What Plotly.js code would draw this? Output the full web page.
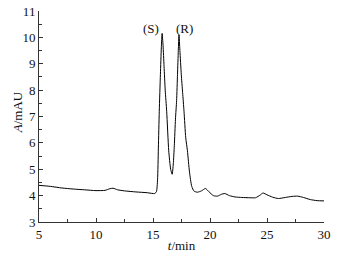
<!DOCTYPE html>
<html><head><meta charset="utf-8">
<script src="https://cdn.plot.ly/plotly-3.0.1.min.js"></script>
<style>html,body{margin:0;padding:0;background:#fff}#c{width:342px;height:256px}</style>
</head><body><div id="c"></div>
<script>
const timeMin = [5,6,7,8,9,10,10.8,11.2,11.5,11.9,12.5,13.5,14.5,15.15,15.3,15.4,15.47,15.55,15.65,15.73,15.8,15.88,15.97,16.07,16.2,16.38,16.55,16.68,16.78,16.87,16.97,17.07,17.15,17.22,17.28,17.36,17.48,17.6,17.72,17.87,18.02,18.2,18.4,18.6,18.9,19.25,19.6,19.9,20.3,20.65,21.0,21.3,21.7,22.2,22.8,23.5,24.0,24.4,24.65,25.0,25.5,26.0,26.6,27.2,27.7,28.2,28.8,29.4,30];
const absorb = [4.39,4.35,4.29,4.25,4.22,4.19,4.2,4.26,4.28,4.22,4.18,4.14,4.11,4.08,4.15,4.6,5.8,7.2,8.6,9.6,10.15,9.7,8.9,8.0,7.2,5.7,5.0,4.81,5.2,5.9,6.9,7.6,8.6,9.5,10.1,9.5,8.6,7.9,7.2,6.2,5.7,4.9,4.35,4.17,4.13,4.18,4.27,4.15,4.0,3.98,4.05,4.08,4.0,3.95,3.93,3.92,3.92,4.02,4.1,4.03,3.94,3.89,3.93,3.97,3.98,3.93,3.85,3.81,3.8];
const peakLabels = ['(S)','(R)'];
const peakLabelX = [14.85,17.72];
const peakLabelY = [10.35,10.35];
const xTicks = [5,10,15,20,25,30];
const yTicks = [3,4,5,6,7,8,9,10,11];

const font = {family:'Liberation Serif', size:13, color:'#111'};
const data = [{x:timeMin, y:absorb, type:'scatter', mode:'lines', line:{color:'#000', width:1, shape:'spline', smoothing:0.6}, hoverinfo:'none'}];
const annotations = peakLabels.map((t,i)=>({x:peakLabelX[i], y:peakLabelY[i], xref:'x', yref:'y', text:t, showarrow:false, font:font}));
annotations.push({xref:'paper', yref:'paper', x:0, y:0.52, xshift:-22, xanchor:'center', yanchor:'middle', textangle:-90, text:'<i>A</i>/mAU', showarrow:false, font:font});
const layout = {
  width:342, height:256, margin:{l:39,r:18,t:11,b:34},
  paper_bgcolor:'#fff', plot_bgcolor:'#fff', showlegend:false, font:font,
  xaxis:{range:[5,30], tickvals:xTicks, ticktext:xTicks.map(String), ticks:'inside', ticklen:4, tickcolor:'#333', tickwidth:1,
    minor:{dtick:2.5, ticks:'inside', ticklen:3, tickcolor:'#333'},
    showline:true, linecolor:'#333', linewidth:1, showgrid:false, zeroline:false, mirror:false,
    title:{text:'<i>t</i>/min', font:font, standoff:0}},
  yaxis:{range:[3,11], tickvals:yTicks, ticktext:yTicks.map(String), ticks:'inside', ticklen:4, tickcolor:'#333', tickwidth:1,
    minor:{dtick:0.5, ticks:'inside', ticklen:3, tickcolor:'#333'},
    showline:true, linecolor:'#333', linewidth:1, showgrid:false, zeroline:false},
  annotations:annotations
};
Plotly.newPlot('c', data, layout, {staticPlot:true, displayModeBar:false});
</script></body></html>
